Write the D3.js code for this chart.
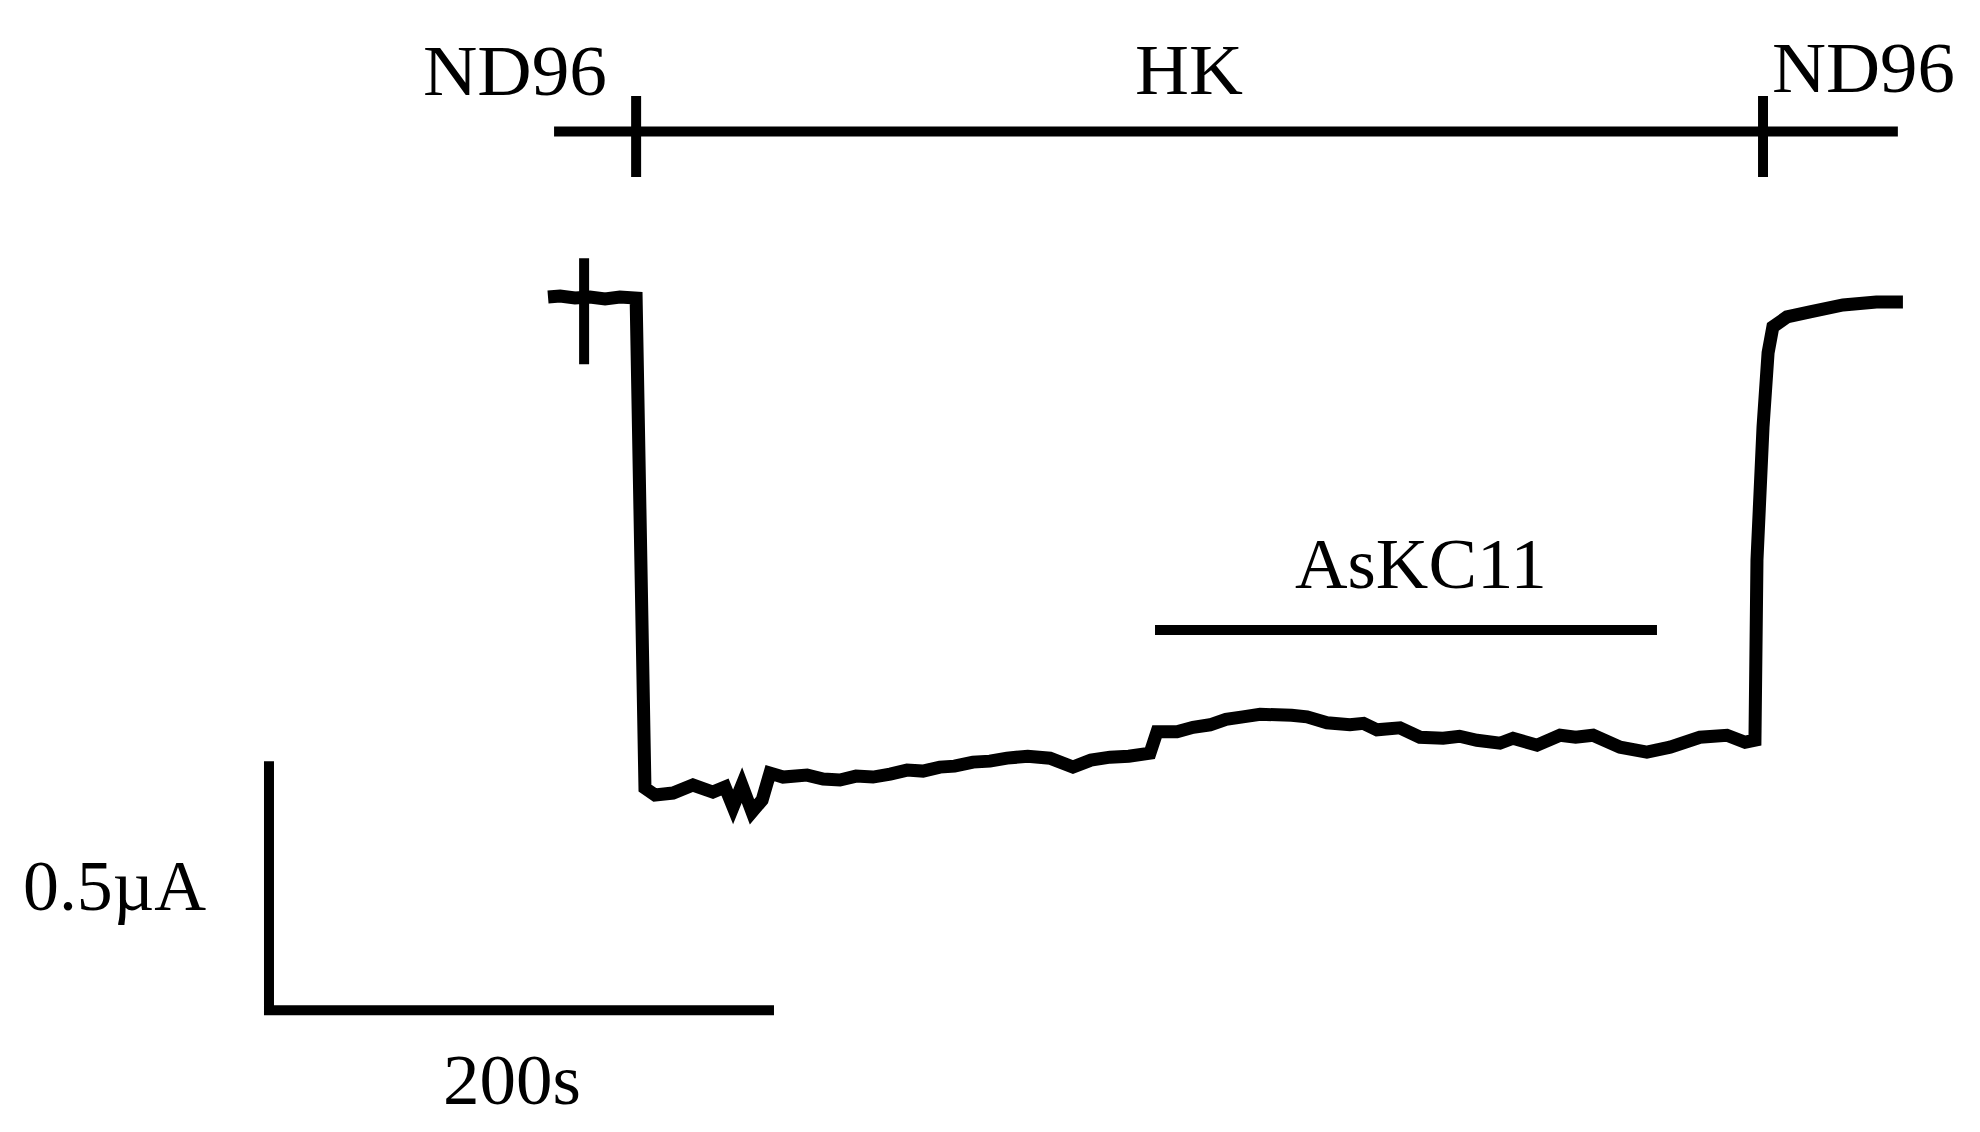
<!DOCTYPE html>
<html>
<head>
<meta charset="utf-8">
<script src="https://cdn.jsdelivr.net/npm/d3@7"></script>
<style>
  body { margin: 0; background: #fff; }
  text { font-family: "Liberation Serif", "DejaVu Serif", serif; fill: #000; }
</style>
</head>
<body>
<div id="chart"></div>
<script>
// current trace, time in s, current in uA (0 = ND96 level)
var traceTime = [0, 4.8, 10.7, 16.6, 22.6, 28.5, 34.9, 38.4, 42.4, 49.5, 57.4, 65.3, 70.1, 73.3, 76.8, 80.8,
    84.8, 87.9, 93.1, 102.6, 109.0, 115.6, 122.0, 128.7, 135.5, 142.2, 148.5, 155.2, 161.0, 168.3, 175.0,
    181.8, 190.0, 198.8, 207.9, 215.0, 222.6, 230.0, 238.4, 241.2, 249.1, 255.5, 262.2, 268.5, 275.2, 282.0,
    288.7, 294.5, 300.6, 308.5, 317.6, 323.0, 328.3, 337.4, 345.3, 354.5, 361.0, 367.9, 377.0, 382.2, 391.7,
    400.8, 407.0, 413.9, 424.6, 435.2, 444.4, 456.2, 466.9, 474.1, 478.0, 478.8, 481.2, 483.2, 485.1, 490.7,
    499.8, 512.9, 526.1, 536.6];
var traceCurrent = [0.002, 0.004, 0, 0.002, -0.002, 0.002, 0, -0.984, -0.998, -0.994, -0.978, -0.992, -0.982,
    -1.022, -0.978, -1.032, -1.008, -0.954, -0.962, -0.958, -0.966, -0.968, -0.960, -0.962, -0.956, -0.948,
    -0.950, -0.942, -0.940, -0.932, -0.930, -0.924, -0.920, -0.924, -0.942, -0.928, -0.922, -0.920, -0.914,
    -0.871, -0.871, -0.862, -0.857, -0.846, -0.841, -0.836, -0.837, -0.838, -0.841, -0.853, -0.857, -0.854,
    -0.867, -0.863, -0.882, -0.884, -0.880, -0.888, -0.894, -0.884, -0.898, -0.878, -0.882, -0.878, -0.902,
    -0.912, -0.902, -0.882, -0.878, -0.892, -0.888, -0.526, -0.259, -0.110, -0.058, -0.038, -0.028, -0.014,
    -0.008, -0.008];

// solution bar on top
var solutionNames = ["ND96", "HK", "ND96"];
var solutionSwitch = [34.9, 481.2];
var solutionBarExtent = [2.4, 534.6];

// toxin application
var toxinName = "AsKC11";
var toxinExtent = [240.4, 439.2];

// small vertical marker at start of trace
var markerTime = 14.3;
var markerSpan = [0.08, -0.133];

// scale bars
var scaleBarOrigin = [-110.5, -1.43];
var scaleBarTime = 200;
var scaleBarCurrent = 0.5;
var scaleBarLabels = ["200s", "0.5\u00b5A"];

var width = 1980;
var height = 1132;

var svg = d3.select("#chart")
    .append("svg")
    .attr("width", width)
    .attr("height", height);

var x = d3.scaleLinear()
    .domain([0, 200])
    .range([548, 548 + 505]);

var y = d3.scaleLinear()
    .domain([0, -0.5])
    .range([298, 298 + 249]);

var fontSize = 71;

// top bar
var barY = 131.5;
svg.append("line")
    .attr("x1", x(solutionBarExtent[0]))
    .attr("x2", x(solutionBarExtent[1]))
    .attr("y1", barY)
    .attr("y2", barY)
    .attr("stroke", "#000")
    .attr("stroke-width", 10);

svg.selectAll(".switch")
    .data(solutionSwitch)
    .enter()
    .append("line")
    .attr("class", "switch")
    .attr("x1", function (d) { return x(d); })
    .attr("x2", function (d) { return x(d); })
    .attr("y1", 96)
    .attr("y2", 177)
    .attr("stroke", "#000")
    .attr("stroke-width", 10);

// label layout: [left x, baseline, textLength]
var solutionLabelPos = [[423, 95, 184], [1135, 94, 108], [1772, 92, 183]];
svg.selectAll(".sol")
    .data(solutionNames)
    .enter()
    .append("text")
    .attr("class", "sol")
    .attr("x", function (d, i) { return solutionLabelPos[i][0]; })
    .attr("y", function (d, i) { return solutionLabelPos[i][1]; })
    .attr("textLength", function (d, i) { return solutionLabelPos[i][2]; })
    .attr("lengthAdjust", "spacingAndGlyphs")
    .style("font-size", fontSize + "px")
    .text(function (d) { return d; });

// toxin bar
svg.append("line")
    .attr("x1", x(toxinExtent[0]))
    .attr("x2", x(toxinExtent[1]))
    .attr("y1", 630)
    .attr("y2", 630)
    .attr("stroke", "#000")
    .attr("stroke-width", 10);

svg.append("text")
    .attr("x", 1295)
    .attr("y", 588)
    .attr("textLength", 252)
    .attr("lengthAdjust", "spacingAndGlyphs")
    .style("font-size", fontSize + "px")
    .text(toxinName);

// trace
var traceData = traceTime.map(function (t, i) { return [t, traceCurrent[i]]; });

var line = d3.line()
    .x(function (d) { return x(d[0]); })
    .y(function (d) { return y(d[1]); });

svg.append("path")
    .datum(traceData)
    .attr("d", line)
    .attr("fill", "none")
    .attr("stroke", "#000")
    .attr("stroke-width", 13)
    .attr("stroke-linejoin", "miter");

svg.append("line")
    .attr("x1", x(markerTime))
    .attr("x2", x(markerTime))
    .attr("y1", y(markerSpan[0]))
    .attr("y2", y(markerSpan[1]))
    .attr("stroke", "#000")
    .attr("stroke-width", 10);

// scale bars
var sx = x(scaleBarOrigin[0]);
var sy = y(scaleBarOrigin[1]);
svg.append("path")
    .attr("d", "M" + sx + "," + y(scaleBarOrigin[1] + scaleBarCurrent) +
        "L" + sx + "," + sy +
        "L" + x(scaleBarOrigin[0] + scaleBarTime) + "," + sy)
    .attr("fill", "none")
    .attr("stroke", "#000")
    .attr("stroke-width", 10)
    .attr("stroke-linejoin", "miter");

svg.append("text")
    .attr("x", 443)
    .attr("y", 1104)
    .attr("textLength", 138)
    .attr("lengthAdjust", "spacingAndGlyphs")
    .style("font-size", fontSize + "px")
    .text(scaleBarLabels[0]);

svg.append("text")
    .attr("x", 23)
    .attr("y", 910)
    .attr("textLength", 183)
    .attr("lengthAdjust", "spacingAndGlyphs")
    .style("font-size", fontSize + "px")
    .text(scaleBarLabels[1]);
</script>
</body>
</html>
